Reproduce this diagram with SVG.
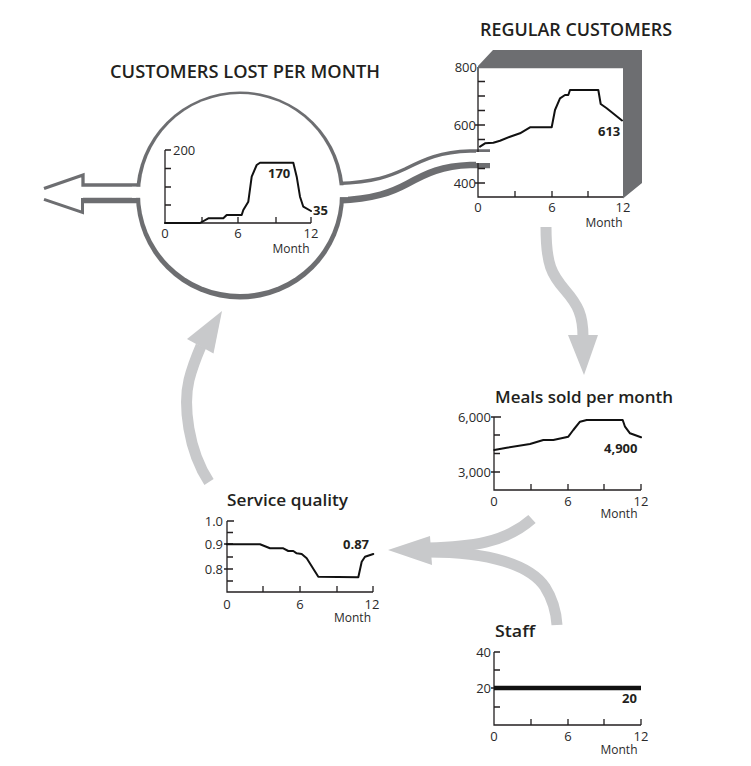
<svg xmlns="http://www.w3.org/2000/svg" width="751" height="766" viewBox="0 0 751 766">
<style>
text{font-family:"Open Sans","Noto Sans","Liberation Sans",sans-serif;fill:#231f20}
.ttl{font-size:17.5px;font-weight:600}
.sub{font-size:16.5px;font-weight:600}
.tk{font-size:13px;font-weight:400;fill:#2a2a2a}
.mo{font-size:12px;font-weight:400;fill:#2a2a2a}
.mid{text-anchor:middle}
.end{text-anchor:end}
.val{font-size:13px;font-weight:700}
.ax{stroke:#231f20;stroke-width:1.3;fill:none}
.cv{stroke:#111;stroke-width:2;fill:none;stroke-linejoin:round;stroke-linecap:round}
.dk{fill:#6d6e71}
.dks{stroke:#6d6e71;fill:none}
.lt{stroke:#c8c9cb;stroke-width:11;fill:none}
.ltf{fill:#c8c9cb}
</style>
<rect width="751" height="766" fill="#fff"/>

<g id="connectors">
  <!-- outflow arrow on the left -->
  <path class="dks" stroke-width="3.3" d="M140,185 H83 V175 L44,188.5"/>
  <path class="dks" stroke-width="5.6" d="M140,200.5 H83"/>
  <path class="dks" stroke-width="3" d="M82.5,198 V212.5 L44,199.3"/>
  <!-- pipe from circle to regular customers -->
  <path fill="#fff" d="M335,185 C375,183.5 390,177 405,170 C425,160 440,153 470,152.5 L490,152.5 L490,162 L470,162 C442,163 427,170 407,181 C392,189 375,196 335,197.5 Z"/>
  <path class="dks" stroke-width="3.3" d="M338,183.5 C375,182 390,176 405,169 C425,159 440,152 470,151 L490,151"/>
  <path class="dks" stroke-width="6.6" d="M338,200.5 C375,199 392,192 407,184 C427,173 442,166 470,165 L490,165"/>
  <!-- regular customers -> meals -->
  <path class="lt" d="M546,227 C546,265 552,275 565,290 C578,305 583,315 583,337"/>
  <polygon class="ltf" points="568,335 598,335 584,375"/>
  <!-- meals and staff -> service quality -->
  <path class="lt" d="M428,548 C470,547 505,543 532,519"/>
  <path class="lt" d="M428,552 C490,552 530,565 545,587 C552,598 556,610 557,625"/>
  <polygon class="ltf" points="388,550 430,536 432,565"/>
  <!-- service quality -> customers lost -->
  <path class="lt" d="M209,482 C188,450 183,405 189,380 C192,368 195,360 201,346"/>
  <polygon class="ltf" points="187,339 213.5,353.5 222,311"/>
</g>

<g id="customers-lost">
  <circle cx="240" cy="195.5" r="104" class="dk"/>
  <circle cx="240" cy="194" r="100" fill="#fff"/>
  <rect x="132" y="186.8" width="12" height="11" fill="#fff"/>
  <rect x="334" y="185.3" width="14" height="11.8" fill="#fff"/>
  <text class="ttl" x="110" y="78" textLength="270" lengthAdjust="spacingAndGlyphs">CUSTOMERS LOST PER MONTH</text>
  <path class="ax" d="M165,150 V223 H311 M165,150 H171 M165,168.5 H171 M165,187 H171 M165,205 H171 M202,223 V217 M238,223 V217 M276,223 V217 M311,223 V217"/>
  <polyline class="cv" points="165,223 200,223 208.3,218.3 223.3,218.3 226.7,215 241.7,215 243.3,210 248.3,201.7 251.7,176.7 256.7,165 260,162.7 293.3,162.7 296.7,176.7 300,196.7 303.3,206.7 311,211"/>
  <text class="tk" x="173" y="155">200</text>
  <text class="tk mid" x="165" y="237.5">0</text>
  <text class="tk mid" x="238" y="237.5">6</text>
  <text class="tk mid" x="311" y="237.5">12</text>
  <text class="mo mid" x="291" y="253">Month</text>
  <text class="val" x="268" y="178">170</text>
  <text class="val" x="313" y="215">35</text>
</g>

<g id="regular-customers">
  <text class="ttl" x="480" y="36" textLength="192" lengthAdjust="spacingAndGlyphs">REGULAR CUSTOMERS</text>
  <path class="ax" d="M478,67 V197 H623 M478,81.5 H485 M478,96 H485 M478,110.5 H485 M475,125 H485 M478,139.5 H485 M478,154 H485 M478,168.5 H485 M475,183 H485 M515,197 V191 M552,197 V191 M588,197 V191"/>
  <polygon class="dk" points="478,66 493,50 642,50 642,183 623,198.5 623,68.3 478,68.3"/>
  <rect x="476" y="152" width="14" height="11" fill="#fff"/>
  <polyline class="cv" points="480,146.7 485,143.3 493.3,142.7 500,140.7 510,136.7 520,133.3 530,127.3 551.7,127.3 555,110 560,98.3 565,95 568.3,95 570,90 598.3,90 600.7,104 606.7,108.3 622,120.5"/>
  <text class="tk end" x="477" y="71.5">800</text>
  <text class="tk end" x="476" y="129.5">600</text>
  <text class="tk end" x="476" y="187.5">400</text>
  <text class="tk mid" x="478" y="212">0</text>
  <text class="tk mid" x="552" y="212">6</text>
  <text class="tk mid" x="623" y="212">12</text>
  <text class="mo mid" x="604" y="227">Month</text>
  <text class="val" x="598" y="136">613</text>
</g>

<g id="meals-sold">
  <text class="sub" x="495" y="402.5" textLength="178" lengthAdjust="spacingAndGlyphs">Meals sold per month</text>
  <path class="ax" d="M494,417 V490 H641 M491,417 H501 M494,435 H500 M494,453.5 H500 M491,472 H500 M531,490 V484 M568,490 V484 M604,490 V484 M641,490 V484"/>
  <polyline class="cv" points="494.3,450 506.7,447.7 530,444 543.3,440 553.3,440 568.3,436.7 573.3,430 580,421.7 586.7,420 622.7,420 625,426.7 630,433.3 641,437.3"/>
  <text class="tk end" x="491" y="421.5">6,000</text>
  <text class="tk end" x="491" y="476.5">3,000</text>
  <text class="tk mid" x="494" y="505.5">0</text>
  <text class="tk mid" x="568" y="505.5">6</text>
  <text class="tk mid" x="641" y="505.5">12</text>
  <text class="mo mid" x="619" y="518">Month</text>
  <text class="val" x="604" y="453">4,900</text>
</g>

<g id="service-quality">
  <text class="sub" x="227" y="506" textLength="121" lengthAdjust="spacingAndGlyphs">Service quality</text>
  <path class="ax" d="M227,521 V592 H373 M227,521 H234 M227,532.5 H233 M224,544 H233 M227,557 H233 M224,569 H233 M227,581 H233 M263,592 V586 M300,592 V586 M337,592 V586 M373,592 V586"/>
  <polyline class="cv" points="226.7,544.3 260,544.3 270,548.3 283.3,548.3 288.3,551 293.3,551 296.7,553.3 301.7,554 306.7,558.3 318.3,576.7 358.3,577.3 361.7,561.7 365,556.7 373.3,554"/>
  <text class="tk end" x="223" y="525.5">1.0</text>
  <text class="tk end" x="223" y="548.5">0.9</text>
  <text class="tk end" x="223" y="573.5">0.8</text>
  <text class="tk mid" x="227" y="608.5">0</text>
  <text class="tk mid" x="300" y="608.5">6</text>
  <text class="tk mid" x="372" y="608.5">12</text>
  <text class="mo mid" x="352.5" y="622">Month</text>
  <text class="val" x="343" y="549">0.87</text>
</g>

<g id="staff">
  <text class="sub" x="495" y="637" textLength="40" lengthAdjust="spacingAndGlyphs">Staff</text>
  <path class="ax" d="M494,652 V725 H641 M494,652 H500 M494,670 H500 M491,688 H496 M494,707 H500 M531,725 V719 M568,725 V719 M604,725 V719 M641,725 V719"/>
  <path d="M494,688 H641" stroke="#111" stroke-width="4.5" fill="none"/>
  <text class="tk end" x="491" y="656.5">40</text>
  <text class="tk end" x="491" y="692.5">20</text>
  <text class="tk mid" x="494" y="740.5">0</text>
  <text class="tk mid" x="568" y="740.5">6</text>
  <text class="tk mid" x="641" y="740.5">12</text>
  <text class="mo mid" x="619" y="754">Month</text>
  <text class="val" x="622" y="703">20</text>
</g>
</svg>
